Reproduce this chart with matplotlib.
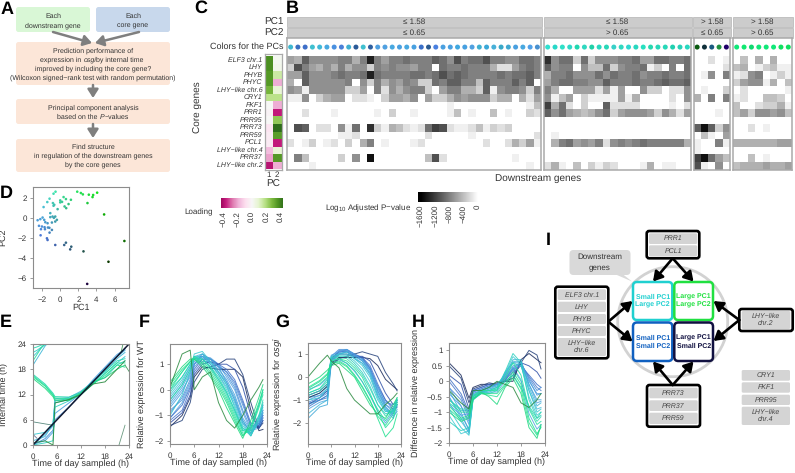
#!/usr/bin/env python

import numpy as np
import matplotlib
matplotlib.use("Agg")
import matplotlib.pyplot as plt
from matplotlib.patches import FancyBboxPatch, Rectangle, Circle, Polygon

plt.rcParams["font.family"] = ["Liberation Sans", "DejaVu Sans"]
plt.rcParams["mathtext.default"] = "regular"
plt.rcParams["text.hinting"] = "none"
plt.rcParams["text.hinting_factor"] = 1

W, H = 795, 473
GREY_TXT = "#333333"

# panel C, loadings of the core genes
core_genes = ["ELF3 chr.1", "LHY", "PHYB", "PHYC", "LHY\u2212like chr.6", "CRY1", "FKF1", "PRR1", "PRR95",
              "PRR73", "PRR59", "PCL1", "LHY\u2212like chr.4", "PRR37", "LHY\u2212like chr.2"]
loading_pc1 = [0.38, 0.38, 0.36, 0.36, 0.30, 0.18, 0.0, -0.02, 0.0, -0.07, -0.05, -0.05, -0.17, -0.22, -0.40]
loading_pc2 = [0.02, 0.03, 0.15, -0.20, 0.08, 0.18, -0.20, -0.38, 0.25, 0.45, 0.35, -0.38, 0.08, 0.36, -0.20]

# panel B, one hex digit per cell = hundreds of -log10 adjusted p
block1 = ["65a77 77885 8e868 89888 a97b8 99b88 77998",
          "3b865 75857 73878 77688 09889 88852 26898",
          "66a77 78988 9e988 88998 9b9a9 88889 899a8",
          "50a77 77780 73857 68733 98aa8 84a88 8a8a0",
          "76177 77733 60827 57883 06885 53a17 88738",
          "11703 56602 21036 65706 33576 77735 50526",
          "00000 00000 00000 00000 00100 00000 00014",
          "00200 01000 00103 00100 00140 10040 10032",
          "00000 00000 00000 00000 00000 00000 00000",
          "0ba02 20719 0d315 42129 cb211 24132 30000",
          "00000 00112 00000 00002 00000 10000 00002",
          "20130 12030 58010 00120 00000 00200 25361",
          "00000 00000 00000 00000 00000 00000 00000",
          "08400 00307 0f000 00004 b2000 00000 01000",
          "00010 00000 00000 00000 00000 00000 00010"]
block2 = ["d7993 93777 88966 99889",
          "a7880 74493 78891 30809",
          "58897 77979 88978 89889",
          "68998 877a8 88988 9a99a",
          "85006 66261 60073 30227",
          "71460 31111 61500 00207",
          "c5920 300a2 22200 00102",
          "a7965 45793 67776 37526",
          "00000 00000 00000 00000",
          "00000 00000 00000 00000",
          "01000 00000 00000 00000",
          "05896 76827 87898 88885",
          "00000 00000 00000 00000",
          "00000 00000 00000 00000",
          "25104 03132 00015 01100"]
block3 = ["00201", "00002", "01708", "00000", "01003", "50808", "00000", "00010", "00000",
          "afa37", "04106", "10081", "10000", "cf964", "b1070"]
block4 = ["04050500", "45013411", "12780131", "36771504", "02000001", "12004430", "40023351",
          "46377674", "00000000", "00201000", "00000000", "55555566", "00000000", "00401000", "45556556"]

# colours of the dots above the heat map
dots1 = ["#3fb8d0", "#3a6fc0", "#3f6fc8", "#40c0d0", "#40b8d8", "#48a8e0", "#4a90e0", "#4a80d8", "#40b0d0", "#2a5a98",
         "#40c0d0", "#2f60a0", "#50a0e0", "#50a0e0", "#48a8e0", "#4aa0e0", "#48a8e0", "#48a0e0", "#3a6fc8", "#2a5a90",
         "#4a80e0", "#4aa0e0", "#4aa0e0", "#40a8e0", "#48a0e0", "#50a0e0", "#40b0d0", "#3aa8d8", "#48b0d8", "#38a8c8",
         "#40a8d0", "#4aa0e0", "#48a8e0", "#50a0e8", "#4890d0"]
dots2 = ["#30e0d0", "#28d8c8", "#30e0c8", "#30d8c8", "#20d8b0", "#30d8c0", "#20d0a8", "#28d8c0", "#28d8b8", "#38d0c8",
         "#30d8c0", "#30d8d0", "#28d8c0", "#28e0c0", "#28d8b0", "#28d8b8", "#28d8b8", "#20d0b0", "#28d0b8", "#28d8c0"]
dots3 = ["#0a5a10", "#10303a", "#1a5a80", "#209040", "#20006a"]
dots4 = ["#10e878", "#10e870", "#10d870", "#10e878", "#10e878", "#10e878", "#10e060", "#10e060"]

# panel D
pc1_values = [-0.52, -0.74, -1.18, -1.43, -1.84, 0.37, 0.63, 1.18, 0.0, 0.0, -0.81, -0.66, 0.92, 0.48, 0.66, -0.29,
              -0.74, 1.88, 2.28, 2.5, 3.16, 3.64, 4.08, 3.57, 3.01, 4.85, 7.09, -2.5, -2.2, -1.95, -1.77, -1.1,
              -1.1, -0.85, -0.55, -0.37, -0.55, -0.92, -1.65, -1.4, -2.35, -2.02, -1.73, -1.36, -2.13, -1.69, -0.92,
              -1.18, -2.17, -1.47, -1.4, -0.55, 0.44, 0.63, 1.22, 1.1, 2.57, 5.33, 2.98, -1.2, -0.7, 0.2]
pc2_values = [2.62, 2.42, 1.92, 1.58, 1.08, 2.08, 1.88, 1.81, 1.75, 1.55, 1.48, 1.31, 1.38, 1.14, 0.97, 0.87,
              1.21, 2.62, 2.49, 2.35, 2.32, 2.29, 2.52, 2.08, 1.48, 0.34, -2.32, -0.24, -0.13, 0.03, -0.2, 0.47,
              0.07, 0.13, 0.13, -0.2, -0.37, -0.47, -0.44, -0.54, -0.8, -0.87, -0.94, -0.97, -1.14, -1.14, -1.21,
              -1.48, -1.75, -2.05, -2.22, -2.72, -2.72, -2.49, -2.89, -3.16, -3.36, -4.4, -6.62, -1.0, 0.0, 1.6]

# panels E to H
line_colors = ["#1a2a5a", "#24407a", "#2f50a8", "#3f70c8", "#4a90d8", "#4aa0e0", "#40a8d8", "#40b8d8",
               "#38c8d0", "#30d0c0", "#28d8b0", "#28e0a0", "#20e090", "#20d880", "#2a8a40"]
extra_colors = ["#3f70c8", "#4a90d8", "#4aa0e0", "#40b8d8", "#38c8d0", "#28d8b0", "#4aa0e0", "#20e090"]
hours = [0, 3, 5, 6, 8, 10, 12, 14, 16, 18, 20, 22, 23]
expr_wt = [[-1.45, -1.0, -0.3, 0.5, 0.9, 0.85, 0.8, 0.8, 0.8, 0.5, -0.8, -1.6, -1.55],
           [-1.4, -1.2, -0.5, 0.3, 0.8, 0.9, 1.0, 1.2, 1.2, 0.6, -0.5, -1.5, -1.3],
           [-1.3, -0.9, -0.2, 0.6, 1.0, 1.1, 1.0, 1.0, 0.8, 0.1, -1.0, -1.5, -1.2],
           [-1.1, -0.6, 0.1, 0.8, 1.2, 1.2, 1.0, 0.8, 0.4, -0.4, -1.3, -1.4, -1.0],
           [-0.9, -0.3, 0.4, 1.0, 1.4, 1.2, 0.9, 0.6, 0.1, -0.8, -1.5, -1.3, -1.0],
           [-0.7, -0.1, 0.6, 1.1, 1.3, 1.1, 0.8, 0.4, -0.2, -1.1, -1.6, -1.2, -0.8],
           [-0.5, 0.1, 0.7, 1.2, 1.3, 1.2, 0.9, 0.3, -0.3, -1.2, -1.7, -1.3, -0.8],
           [-0.3, 0.3, 0.9, 1.3, 1.4, 1.0, 0.6, 0.1, -0.5, -1.3, -1.8, -1.2, -0.6],
           [-1.0, -0.2, 0.7, 1.4, 1.5, 1.1, 0.7, 0.2, -0.7, -1.5, -1.7, -1.0, -0.7],
           [-0.1, 0.5, 1.0, 1.3, 1.2, 0.9, 0.4, -0.1, -0.8, -1.5, -1.8, -1.1, -0.5],
           [-0.4, 0.2, 0.8, 1.2, 1.2, 0.9, 0.5, -0.1, -0.8, -1.6, -1.5, -0.6, 0.0],
           [0.0, 0.7, 1.1, 1.3, 1.1, 0.8, 0.3, -0.3, -1.0, -1.7, -1.6, -0.7, -0.2],
           [0.2, 0.8, 1.1, 1.2, 1.0, 0.6, 0.1, -0.5, -1.2, -1.8, -1.4, -0.5, 0.0],
           [0.3, 0.9, 1.2, 1.2, 0.9, 0.5, 0.0, -0.7, -1.3, -1.9, -1.2, -0.3, 0.2],
           [0.1, 1.4, 1.55, 0.0, 0.5, 0.7, -0.5, -1.2, -1.5, -1.0, -0.4, 0.1, 0.4]]
expr_wt_extra = [[-1.2, -0.8, 0.0, 0.7, 1.1, 1.1, 0.9, 0.7, 0.3, -0.5, -1.4, -1.4, -1.1],
                 [-0.8, -0.4, 0.3, 0.9, 1.2, 1.2, 0.95, 0.7, 0.2, -0.6, -1.4, -1.5, -1.2],
                 [-0.6, 0.0, 0.5, 1.0, 1.3, 1.25, 1.0, 0.5, 0.0, -0.9, -1.6, -1.4, -0.9],
                 [-0.4, 0.2, 0.8, 1.2, 1.4, 1.1, 0.7, 0.2, -0.4, -1.2, -1.7, -1.3, -0.9],
                 [-0.2, 0.4, 0.9, 1.3, 1.3, 1.0, 0.6, 0.0, -0.6, -1.4, -1.8, -1.1, -0.6],
                 [0.0, 0.5, 1.0, 1.25, 1.2, 0.85, 0.4, -0.2, -0.9, -1.6, -1.7, -1.0, -0.4],
                 [-1.1, -0.5, 0.2, 1.0, 1.2, 1.0, 0.7, 0.3, -0.4, -1.3, -1.6, -1.5, -1.1],
                 [0.1, 0.7, 1.1, 1.25, 1.05, 0.7, 0.2, -0.4, -1.1, -1.8, -1.5, -0.6, -0.1]]
expr_osgi = [[-0.9, -0.7, -0.4, 0.6, 0.85, 0.85, 0.85, 0.85, 0.8, 0.5, -0.1, -0.4, -0.55],
             [-0.8, -0.6, -0.3, 0.5, 0.8, 0.9, 1.0, 1.1, 1.0, 0.9, 0.2, -0.3, -0.6],
             [-1.2, -0.9, -0.6, 0.7, 1.0, 1.0, 0.9, 0.9, 0.7, 0.0, -0.7, -1.2, -1.1],
             [-1.3, -1.0, -0.8, 0.8, 1.1, 1.1, 0.95, 0.85, 0.4, -0.4, -1.0, -1.4, -1.3],
             [-1.1, -0.9, -0.7, 0.9, 1.2, 1.2, 0.95, 0.8, 0.4, -0.5, -1.1, -1.2, -1.0],
             [-1.0, -0.8, -0.5, 0.95, 1.1, 1.2, 1.0, 0.7, 0.3, -0.4, -1.2, -1.5, -1.2],
             [-1.8, -1.3, -1.2, 0.6, 1.0, 1.1, 0.9, 0.7, 0.2, -0.6, -1.3, -1.7, -1.5],
             [-1.6, -1.2, -1.0, 0.7, 1.0, 1.1, 0.8, 0.6, 0.1, -0.8, -1.4, -1.8, -1.4],
             [-1.0, -0.9, -0.5, 0.9, 1.0, 1.0, 0.8, 0.5, 0.0, -0.9, -1.5, -1.4, -1.1],
             [-0.8, -0.6, -0.3, 0.85, 0.9, 0.9, 0.6, 0.2, -0.4, -1.2, -1.6, -1.5, -1.0],
             [-0.7, -0.5, -0.1, 0.7, 0.8, 0.6, 0.3, -0.2, -0.8, -1.4, -1.9, -1.4, -0.9],
             [-0.6, -0.3, 0.0, 0.7, 0.8, 0.7, 0.4, 0.0, -0.7, -1.5, -2.2, -1.8, -1.1],
             [-0.5, -0.2, 0.1, 0.6, 0.7, 0.5, 0.1, -0.4, -1.0, -1.8, -2.6, -2.2, -1.6],
             [-0.3, 0.0, 0.3, 0.5, 0.6, 0.3, 0.0, -0.6, -1.2, -1.6, -1.8, -1.2, -0.9],
             [0.0, 0.6, 0.95, 0.7, 0.4, -0.5, -1.0, -1.3, -1.6, -1.6, -1.2, -0.9, -0.7]]
expr_osgi_extra = [[-1.15, -1.0, -0.9, 0.8, 1.15, 1.15, 1.0, 0.85, 0.5, -0.3, -1.0, -1.3, -1.2],
                   [-0.9, -0.8, -0.6, 0.85, 1.05, 1.2, 1.0, 0.8, 0.35, -0.6, -1.2, -1.4, -1.2],
                   [-1.4, -1.1, -1.0, 0.75, 1.1, 1.1, 0.9, 0.75, 0.3, -0.7, -1.3, -1.6, -1.3],
                   [-1.2, -1.0, -0.8, 0.8, 1.0, 1.1, 0.85, 0.6, 0.15, -0.8, -1.4, -1.6, -1.2],
                   [-0.9, -0.7, -0.4, 0.8, 0.95, 0.95, 0.7, 0.35, -0.2, -1.0, -1.5, -1.5, -1.0],
                   [-0.7, -0.5, -0.2, 0.8, 0.85, 0.8, 0.5, 0.1, -0.5, -1.2, -1.7, -1.4, -1.0],
                   [-0.55, -0.35, -0.05, 0.65, 0.75, 0.6, 0.25, -0.2, -0.8, -1.5, -2.0, -1.5, -1.0],
                   [-0.45, -0.15, 0.15, 0.6, 0.65, 0.45, 0.05, -0.45, -1.05, -1.7, -2.1, -1.6, -1.2]]
expr_diff = [[0.6, 0.2, -0.55, -0.2, -0.1, -0.1, -0.05, 0.0, 0.0, 0.7, 0.9, 0.7, 0.6],
             [0.5, 0.1, -0.7, -0.25, -0.15, -0.05, -0.1, 0.0, 0.1, 0.6, 1.0, 0.85, 0.4],
             [0.2, -0.1, -0.9, -0.3, -0.2, -0.1, -0.1, 0.0, 0.2, 0.6, 0.5, 0.3, 0.1],
             [0.1, -0.4, -1.0, -0.3, -0.2, -0.1, -0.1, 0.05, 0.3, 0.5, 0.2, -0.1, -0.2],
             [-0.2, -0.6, -1.2, -0.35, -0.25, -0.15, -0.1, 0.1, 0.4, 0.6, 0.1, -0.3, -0.2],
             [-0.4, -0.8, -1.4, -0.4, -0.3, -0.2, -0.1, 0.15, 0.4, 0.5, 0.0, -0.4, -0.4],
             [-0.3, -1.0, -1.6, -0.45, -0.35, -0.2, -0.1, 0.2, 0.5, 0.6, -0.1, -0.6, -0.6],
             [-0.5, -1.2, -1.7, -0.5, -0.3, -0.2, -0.15, 0.2, 0.7, 0.7, -0.2, -0.8, -0.7],
             [-0.9, -1.5, -1.75, -0.6, -0.4, -0.3, -0.2, 0.3, 0.6, 0.5, -0.3, -1.0, -0.9],
             [-1.3, -1.6, -1.5, -0.6, -0.35, -0.4, -0.3, 0.3, 0.9, 0.6, -0.6, -1.2, -1.1],
             [-0.6, -0.9, -0.9, -0.45, -0.3, -0.3, -0.2, 0.0, 0.2, -0.2, -0.8, -1.2, -1.0],
             [-0.7, -1.0, -1.0, -0.5, -0.3, -0.3, -0.3, 0.1, 0.6, 0.2, -0.9, -1.4, -1.3],
             [-0.8, -1.2, -1.1, -0.55, -0.4, -0.4, -0.4, -0.1, 0.3, -0.1, -1.2, -1.7, -1.5],
             [-1.0, -1.3, -1.2, -0.6, -0.35, -0.5, -0.75, -0.2, 0.1, -0.4, -1.5, -1.85, -1.4],
             [-0.3, -0.7, -0.9, -0.3, -0.3, -0.2, 0.0, -0.1, -0.2, -0.7, -0.85, -0.6, -0.4]]
expr_diff_extra = [[0.0, -0.5, -1.1, -0.35, -0.25, -0.15, -0.1, 0.1, 0.35, 0.55, 0.15, -0.2, -0.3],
                   [-0.2, -0.8, -1.3, -0.4, -0.3, -0.2, -0.1, 0.15, 0.45, 0.6, 0.05, -0.45, -0.4],
                   [-0.5, -1.1, -1.55, -0.5, -0.35, -0.25, -0.15, 0.2, 0.6, 0.65, -0.1, -0.7, -0.65],
                   [-0.7, -1.3, -1.65, -0.55, -0.4, -0.25, -0.2, 0.25, 0.65, 0.6, -0.3, -0.9, -0.85],
                   [-1.1, -1.7, -1.6, -0.6, -0.4, -0.35, -0.25, 0.25, 0.8, 0.55, -0.5, -1.1, -1.0],
                   [-0.6, -0.95, -0.95, -0.5, -0.35, -0.3, -0.25, 0.05, 0.4, 0.0, -0.85, -1.3, -1.15],
                   [-0.75, -1.1, -1.05, -0.5, -0.35, -0.35, -0.35, 0.0, 0.45, 0.05, -1.05, -1.55, -1.4],
                   [-0.9, -1.25, -1.15, -0.55, -0.4, -0.45, -0.5, -0.15, 0.2, -0.25, -1.35, -1.75, -1.45]]

e_hours = [0, 3, 5, 5.5, 9, 12, 15, 18, 21, 23]
internal_main = [[0.0, 1.5, 3.5, 6.0, 9.0, 12.0, 15.0, 18.0, 21.0, 23.0],
                 [0.2, 1.0, 3.0, 7.5, 10.0, 12.2, 15.5, 18.5, 21.5, 22.8],
                 [0.0, 2.5, 4.5, 10.5, 11.0, 12.5, 15.2, 18.2, 21.0, 22.5],
                 [1.0, 2.0, 5.0, 11.0, 11.3, 12.8, 15.0, 17.5, 20.5, 22.0],
                 [2.5, 3.0, 5.2, 10.0, 10.8, 12.0, 14.5, 17.0, 19.5, 21.0],
                 [0.0, 0.5, 1.0, 9.0, 10.5, 12.0, 14.8, 16.0, 19.0, 20.0],
                 [16.8, 14.5, 12.3, 11.5, 11.4, 12.5, 15.0, 17.5, 20.0, 20.5],
                 [16.5, 14.2, 12.0, 11.2, 11.0, 12.2, 14.5, 17.0, 19.5, 19.5],
                 [16.2, 14.0, 11.8, 10.9, 10.9, 12.0, 14.5, 16.5, 19.0, 18.5],
                 [15.8, 13.5, 11.5, 10.5, 10.6, 12.4, 15.0, 16.0, 18.0, 19.0],
                 [0.5, 1.0, 0.0, 10.0, 10.8, 12.0, 14.5, 15.0, 18.0, 20.0]]
top_hours = [0, 1, 2, 3, 4, 5]
internal_top = [[19.0, 20.5, 22.0, 23.5, 24.5, 25.0],
                [21.0, 22.0, 23.0, 24.0, 24.5, 25.0],
                [22.0, 22.5, 23.2, 23.8, 24.5, 25.0],
                [23.0, 23.3, 23.7, 24.0, 24.2, 24.5],
                [20.0, 21.5, 23.0, 24.2, 25.0, 25.5]]
stray_hours = [[0, 5], [0, 1], [21.5, 23], [22, 22.5], [23, 24]]
stray_times = [[5.5, 4.7], [2.5, 1.6], [0, 4.7], [22, 24], [19, 17.5]]
stray_colors = ["#5a8a80", "#6a7a9a", "#6a9a80", "#4a9a60", "#4a9a60"]
diag_hours = [0, 24]

# panel I
left_box = ["ELF3 chr.1", "LHY", "PHYB", "PHYC", "LHY\u2212like\nchr.6"]
bottom_box = ["PRR73", "PRR37", "PRR59"]
top_box = ["PRR1", "PCL1"]
free_genes = ["CRY1", "FKF1", "PRR95", "LHY\u2212like\nchr.4"]


def px_axes(left, top, right, bottom):
    return fig.add_axes([left / W, 1 - bottom / H, (right - left) / W, (bottom - top) / H])


def round_box(x0, y0, x1, y1, fc, ec="none", lw=0, pad=2.5, z=2):
    ov.add_patch(FancyBboxPatch((x0 + pad, y0 + pad), x1 - x0 - 2 * pad, y1 - y0 - 2 * pad,
                                boxstyle="round,pad=%g,rounding_size=%g" % (pad, pad),
                                fc=fc, ec=ec, lw=lw, zorder=z))


def block_arrow(x0, y0, x1, y1):
    ov.annotate("", xy=(x1, y1), xytext=(x0, y0),
                arrowprops=dict(arrowstyle="-|>,head_width=0.32,head_length=0.5", color="#7f7f7f", lw=1.8,
                                shrinkA=0, shrinkB=0, mutation_scale=10))


def black_arrow(x0, y0, x1, y1):
    ov.annotate("", xy=(x1, y1), xytext=(x0, y0), zorder=5,
                arrowprops=dict(arrowstyle="-|>,head_width=0.33,head_length=0.55", color="black", lw=1.9,
                                shrinkA=0, shrinkB=0, mutation_scale=10))


def text_width(s, **kw):
    # extra letters keep the spaces at the ends of s in the measure
    renderer = fig.canvas.get_renderer()
    t1 = ov.text(0, 0, "n" + s + "n", **kw)
    t2 = ov.text(0, 0, "nn", **kw)
    w = t1.get_window_extent(renderer).width - t2.get_window_extent(renderer).width
    t1.remove()
    t2.remove()
    return w


def mixed_line(cx, y, pieces, fs=5.0):
    widths = [text_width(s, fontsize=fs, style=st) for s, st in pieces]
    x = cx - sum(widths) / 2
    for (s, st), w in zip(pieces, widths):
        ov.text(x, y, s.strip(), ha="left", va="center_baseline", fontsize=fs, style=st, color=GREY_TXT)
        x += w


def plain_lines(cx, ys, lines, fs=5.0):
    for y, line in zip(ys, lines):
        ov.text(cx, y, line, ha="center", va="center_baseline", fontsize=fs, color=GREY_TXT)


def style_axes(ax):
    for s in ax.spines.values():
        s.set_color("#8c8c8c")
        s.set_linewidth(0.8)
    ax.tick_params(length=2.5, width=0.6, color="#8c8c8c", labelsize=5.9, labelcolor=GREY_TXT, pad=2)
    ax.tick_params(axis="x", pad=3.5)


def time_panel(box, extra, lines, ylim, yticks, ylabel, label_x, yticklabels=None):
    ax = px_axes(*box)
    for row, col in zip(extra, extra_colors):
        ax.plot(hours, row, color=col, lw=0.7, alpha=0.8)
    for row, col in zip(lines, line_colors):
        ax.plot(hours, row, color=col, lw=0.7, alpha=0.85)
    finish_time_panel(ax, ylim, yticks, ylabel, label_x, yticklabels)
    return ax


def finish_time_panel(ax, ylim, yticks, ylabel, label_x, yticklabels=None):
    ax.set_xlim(0, 24)
    ax.set_ylim(*ylim)
    ax.set_xticks([0, 6, 12, 18, 24])
    ax.set_yticks(yticks)
    if yticklabels:
        ax.set_yticklabels(yticklabels)
    style_axes(ax)
    ax.set_xlabel("Time of day sampled (h)", fontsize=6.5, color=GREY_TXT, labelpad=-1)
    ax.set_ylabel(ylabel, fontsize=6.5, color=GREY_TXT)
    ax.yaxis.set_label_coords(label_x, 0.5)


def heat_block(left, right, rows, dots, header1, header2):
    cells = np.array([[-100 * int(c, 16) for c in r.replace(" ", "")] for r in rows])
    ax = px_axes(left, 38, right, 170)
    ax.pcolormesh(cells, cmap="gray", vmin=-1600, vmax=0)
    ax.scatter(np.arange(len(dots)) + 0.5, [-1.2] * len(dots), c=dots, s=13, linewidths=0, clip_on=False)
    ax.set_xlim(0, cells.shape[1])
    ax.set_ylim(15.05, -2.4)
    ax.set_xticks([])
    ax.set_yticks([])
    for s in ax.spines.values():
        s.set_color("#aaaaaa")
        s.set_linewidth(1.1)
    for y0, y1, txt in [(17, 27, header1), (28, 38, header2)]:
        ov.add_patch(Rectangle((left - 0.5, y0), right - left + 1, y1 - y0, fc="#cccccc", ec="#b4b4b4", lw=0.5))
        ov.text((left + right) / 2, (y0 + y1) / 2 + 0.3, txt, ha="center", va="center", fontsize=5.8, color=GREY_TXT)


def gene_rows(x0, x1, top_bottoms, names, fs=5.0):
    for (y0, y1), name in zip(top_bottoms, names):
        round_box(x0, y0, x1, y1, "#d4d4d4", pad=1.5, z=4)
        ov.text((x0 + x1) / 2, (y0 + y1) / 2, name, ha="center", va="center", fontsize=fs, style="italic",
                color="#444444", zorder=5, linespacing=1.05)


fig = plt.figure(figsize=(W / 100, H / 100), dpi=100)
ov = fig.add_axes([0, 0, 1, 1])
ov.set_xlim(0, W)
ov.set_ylim(H, 0)
ov.axis("off")

# panel letters
for letter, x, y in [("A", 1, 9), ("C", 194, 8), ("B", 286, 8), ("D", 0, 193), ("E", 0, 322), ("F", 139, 322),
                     ("G", 275, 322), ("H", 412, 322), ("I", 546, 240)]:
    ov.text(x, y, letter, fontsize=13, fontweight="bold", va="center", color="black")

# panel A
round_box(16, 7, 90, 32, "#d9f7d6")
round_box(96, 7, 170, 32, "#c8d8ec")
plain_lines(53, [15, 25], ["Each", "downstream gene"], 5.2)
plain_lines(133, [15, 25], ["Each", "core gene"], 5.2)
round_box(16, 42, 170, 85, "#fce6d8")
plain_lines(93, [50], ["Prediction performance of"])
mixed_line(93, 59, [("expression in ", "normal"), ("osgi", "italic"), (" by internal time", "normal")])
plain_lines(93, [68, 77], ["improved by including the core gene?",
                           "(Wilcoxon signed\u2212rank test with random permutation)"])
round_box(16, 99, 170, 124, "#fce6d8")
plain_lines(93, [107], ["Principal component analysis"])
mixed_line(93, 116, [("based on the ", "normal"), ("P", "italic"), ("\u2212values", "normal")])
round_box(16, 139, 170, 172, "#fce6d8")
plain_lines(93, [146, 155, 164], ["Find structure", "in regulation of the downstream genes", "by the core genes"])
block_arrow(53, 32, 92, 43)
block_arrow(139, 32, 95, 43)
block_arrow(93, 85, 93, 98)
block_arrow(93, 124, 93, 138)

# panel B
ov.text(284, 22, "PC1", ha="right", va="center", fontsize=7.4, color=GREY_TXT)
ov.text(284, 33, "PC2", ha="right", va="center", fontsize=7.4, color=GREY_TXT)
ov.text(284, 47, "Colors for the PCs", ha="right", va="center", fontsize=6.8, color=GREY_TXT)
heat_block(287, 541, block1, dots1, "\u2264 1.58", "\u2264 0.65")
heat_block(544, 691, block2, dots2, "\u2264 1.58", "> 0.65")
heat_block(693.5, 730, block3, dots3, "> 1.58", "\u2264 0.65")
heat_block(733, 792, block4, dots4, "> 1.58", "> 0.65")
ov.text(495, 178, "Downstream genes", ha="left", va="center", fontsize=7.4, color=GREY_TXT)

# panel C
ax_c = px_axes(265, 54, 281.5, 170)
ax_c.pcolormesh(np.array([loading_pc1, loading_pc2]).T, cmap="PiYG", vmin=-0.47, vmax=0.47)
ax_c.set_xlim(0, 2)
ax_c.set_ylim(15.1, -0.27)
ax_c.set_xticks([])
ax_c.set_yticks([])
for s in ax_c.spines.values():
    s.set_color("#aaaaaa")
    s.set_linewidth(0.9)
for i, name in enumerate(core_genes):
    ov.text(262.5, 60 + i * 7.5, name, ha="right", va="center", fontsize=5.1, style="italic", color=GREY_TXT)
ov.text(198, 107, "Core genes", rotation=90, ha="center", va="center", fontsize=7.3, color=GREY_TXT)
ov.text(269, 175, "1", ha="center", va="center", fontsize=5.8, color=GREY_TXT)
ov.text(277, 175, "2", ha="center", va="center", fontsize=5.8, color=GREY_TXT)
ov.text(273, 184, "PC", ha="center", va="center", fontsize=7.4, color=GREY_TXT)

# colour keys
ax_key = px_axes(221, 198, 283, 208)
ax_key.imshow(np.linspace(-0.44, 0.44, 128)[None, :], cmap="PiYG", vmin=-0.47, vmax=0.47, aspect="auto",
              extent=[-0.44, 0.44, 0, 1])
ax_key.set_yticks([])
ax_key.set_xticks([-0.4, -0.2, 0.0, 0.2, 0.4])
ax_key.set_xticklabels(["\u22120.4", "\u22120.2", "0.0", "0.2", "0.4"], rotation=90)
ax_key.tick_params(length=0, labelsize=5.6, labelcolor=GREY_TXT, pad=2)
for s in ax_key.spines.values():
    s.set_visible(False)
ov.text(199, 212, "Loading", ha="center", va="center", fontsize=5.8, color=GREY_TXT)

ax_p = px_axes(418, 192, 478, 202)
ax_p.imshow(np.linspace(-1680, 0, 128)[None, :], cmap="gray", vmin=-1600, vmax=0, aspect="auto",
            extent=[-1680, 0, 0, 1])
ax_p.set_yticks([])
ax_p.set_xticks([-1600, -1200, -800, -400, 0])
ax_p.set_xticklabels(["\u22121600", "\u22121200", "\u2212800", "\u2212400", "0"], rotation=90)
ax_p.tick_params(length=0, labelsize=5.6, labelcolor=GREY_TXT, pad=2)
for s in ax_p.spines.values():
    s.set_visible(False)
ov.text(325, 208, "Log$_{10}$ Adjusted P\u2212value", ha="left", va="center", fontsize=5.8, color=GREY_TXT)

# panel D
ax_d = px_axes(33, 187, 129, 288)
pc1 = np.array(pc1_values)
pc2 = np.array(pc2_values)
green = np.clip((pc2 + 6.8) / 9.5, 0, 1) * 0.9
blue = np.clip((5 - pc1) / 7, 0, 1) * 0.85
red = 0.05 + 0.25 * blue / 0.85
ax_d.scatter(pc1, pc2, c=np.c_[red, green, blue], s=3.5, linewidths=0)
ax_d.set_xlim(-3.01, 7.6)
ax_d.set_ylim(-7.03, 3.09)
ax_d.set_xticks([-2, 0, 2, 4, 6])
ax_d.set_yticks([-6, -4, -2, 0, 2])
style_axes(ax_d)
ax_d.set_xlabel("PC1", fontsize=6.5, color=GREY_TXT, labelpad=-0.5)
ax_d.set_ylabel("PC2", fontsize=6.5, color=GREY_TXT)
ax_d.yaxis.set_label_coords(-0.27, 0.5)

# panel E
ax_e = px_axes(33, 344, 129, 445)
for row, col in zip(internal_main, line_colors[4:]):
    ax_e.plot(e_hours, row, color=col, lw=0.7, alpha=0.9)
for row, col in zip(internal_top, line_colors[7:]):
    ax_e.plot(top_hours, row, color=col, lw=0.7, alpha=0.9)
for xs, ys, col in zip(stray_hours, stray_times, stray_colors):
    ax_e.plot(xs, ys, color=col, lw=0.6)
ax_e.plot(diag_hours, diag_hours, color="#101830", lw=1.1)
finish_time_panel(ax_e, (0, 24), [0, 6, 12, 18, 24], "Internal time (h)", -0.26)

# panels F, G, H
time_panel((170, 344, 267, 444), expr_wt_extra, expr_wt, (-2.12, 1.79), [-2, -1, 0, 1],
           "Relative expression for WT", -0.247)
time_panel((308, 343, 401, 444), expr_osgi_extra, expr_osgi, (-2.91, 1.48), [-2, -1, 0, 1],
           "Relative expression for $\\it{osgi}$", -0.26)
time_panel((449, 343, 545, 443), expr_diff_extra, expr_diff, (-2, 1.24), [-2, -1.5, -1, -0.5, 0, 0.5, 1],
           "Difference in relative expression", -0.30,
           ["\u22122", "\u22121.5", "\u22121", "\u22120.5", "0", "0.5", "1"])

# panel I
ov.add_patch(Circle((672.7, 321.7), 55, fc="none", ec="#d2d2d2", lw=2, zorder=2))
round_box(569.5, 250, 630.5, 275, "#d9d9d9", pad=4)
ov.add_patch(Polygon([[610, 272], [632, 281.5], [620, 272]], fc="#d9d9d9", ec="none", zorder=2))
ov.text(600, 262.5, "Downstream\ngenes", ha="center", va="center", fontsize=5.6, color=GREY_TXT, linespacing=1.5)

for (x0, y0, x1, y1, col, txt) in [(633, 282, 672.3, 320, "#20d0d0", "Small PC1\nLarge PC2"),
                                   (674.3, 282, 713, 320, "#20e040", "Large PC1\nLarge PC2"),
                                   (633, 322.5, 672.3, 361, "#1060c0", "Small PC1\nSmall PC2"),
                                   (674.3, 322.5, 713, 361, "#101040", "Large PC1\nSmall PC2")]:
    round_box(x0, y0, x1, y1, "white", ec=col, lw=1.8, pad=4, z=3)
    ov.text((x0 + x1) / 2, (y0 + y1) / 2, txt, ha="center", va="center", fontsize=5.0, fontweight="bold",
            color=col, zorder=4, linespacing=1.3)

round_box(646.7, 231, 699.3, 258.3, "white", ec="black", lw=1.9, pad=2.5, z=3)
gene_rows(649, 697.3, [(233.3, 244), (245.3, 256.5)], top_box)
round_box(555.3, 286.7, 608.3, 358.3, "white", ec="black", lw=1.9, pad=2.5, z=3)
gene_rows(557.7, 606, [(289.3, 300), (301.7, 312), (314, 324), (326, 336), (338, 356)], left_box)
round_box(647, 385, 700, 426.7, "white", ec="black", lw=1.9, pad=2.5, z=3)
gene_rows(649.3, 697.7, [(387.7, 398.3), (400.3, 411), (412.7, 424)], bottom_box)
round_box(739.3, 309, 792.7, 331, "white", ec="black", lw=1.9, pad=2.5, z=3)
gene_rows(741.7, 790.3, [(311, 329)], ["LHY\u2212like\nchr.2"])
gene_rows(741.7, 790, [(370, 380.7), (382.3, 392.7), (394.7, 405), (406.7, 425)], free_genes)

for x0, y0, x1, y1 in [(672.7, 258.3, 653, 281.5), (672.7, 258.3, 693.5, 281.5),
                       (608.3, 321.7, 632.5, 301), (608.3, 321.7, 632.5, 341.5),
                       (739.3, 320, 713.5, 301), (739.3, 320, 713.5, 341),
                       (672.7, 385, 653, 361.5), (672.7, 385, 693.5, 361.5)]:
    black_arrow(x0, y0, x1, y1)

fig.savefig("out.png", dpi=100)
